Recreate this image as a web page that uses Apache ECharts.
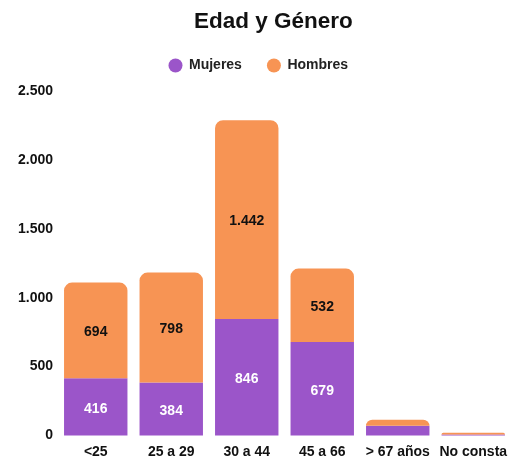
<!DOCTYPE html>
<html lang="es">
<head>
    <meta charset="UTF-8">
    <title>Edad y Género</title>
    <script src="https://cdn.jsdelivr.net/npm/echarts@6/dist/echarts.min.js"></script>
    <style>
        html, body { margin: 0; padding: 0; background: #fff; }
        #chart { width: 511px; height: 461px; }
    </style>
</head>
<body>
<div id="chart"></div>
<script>
    // datos
    var categorias = ['<25', '25 a 29', '30 a 44', '45 a 66', '> 67 años', 'No consta'];
    var mujeres = [416, 384, 846, 679, 70, 8];
    var hombres = [694, 798, 1442, 532, 45, 12];
    var ticksY = [0, 500, 1000, 1500, 2000, 2500];

    var FONT = '"Liberation Sans", Arial, sans-serif';

    // 1442 -> 1.442
    function miles(v) {
        return String(v).replace(/\B(?=(\d{3})+(?!\d))/g, '.');
    }

    var chart = echarts.init(document.getElementById('chart'));
    chart.setOption({
        animation: false,
        title: {
            text: 'Edad y Género',
            left: 189,
            top: 5,
            textStyle: { fontFamily: FONT, fontSize: 22.5, fontWeight: 'bold', color: '#111' }
        },
        legend: {
            data: ['Mujeres', 'Hombres'],
            left: 163.5,
            top: 53.5,
            icon: 'circle',
            itemWidth: 17,
            itemHeight: 14,
            itemGap: 25,
            textStyle: { fontFamily: FONT, fontSize: 14, fontWeight: 'bold', color: '#222' }
        },
        grid: { left: 58, right: 0, top: 91, bottom: 25.5, containLabel: false },
        xAxis: {
            type: 'category',
            data: categorias,
            axisLine: { show: false },
            axisTick: { show: false },
            axisLabel: { interval: 0, margin: 10, fontFamily: FONT, fontSize: 14, fontWeight: 'bold', color: '#111' }
        },
        yAxis: {
            type: 'value',
            min: ticksY[0],
            max: ticksY[ticksY.length - 1],
            interval: 500,
            splitLine: { show: false },
            axisLine: { show: false },
            axisTick: { show: false },
            axisLabel: {
                margin: 5,
                fontFamily: FONT, fontSize: 14, fontWeight: 'bold', color: '#111',
                formatter: miles
            }
        },
        series: [
            {
                name: 'Mujeres',
                type: 'bar',
                stack: 'total',
                barCategoryGap: '16%',
                data: mujeres,
                itemStyle: { color: '#9b55c9' },
                label: {
                    show: true,
                    position: 'inside',
                    offset: [0, 2],
                    color: '#fff',
                    fontFamily: FONT, fontSize: 14, fontWeight: 'bold',
                    formatter: function (p) { return p.value < 100 ? '' : miles(p.value); }
                }
            },
            {
                name: 'Hombres',
                type: 'bar',
                stack: 'total',
                barCategoryGap: '16%',
                data: hombres,
                itemStyle: { color: '#f79454', borderRadius: [8, 8, 0, 0] },
                label: {
                    show: true,
                    position: 'inside',
                    offset: [0, 2],
                    color: '#111',
                    fontFamily: FONT, fontSize: 14, fontWeight: 'bold',
                    formatter: function (p) { return p.value < 100 ? '' : miles(p.value); }
                }
            }
        ]
    });
</script>
</body>
</html>
